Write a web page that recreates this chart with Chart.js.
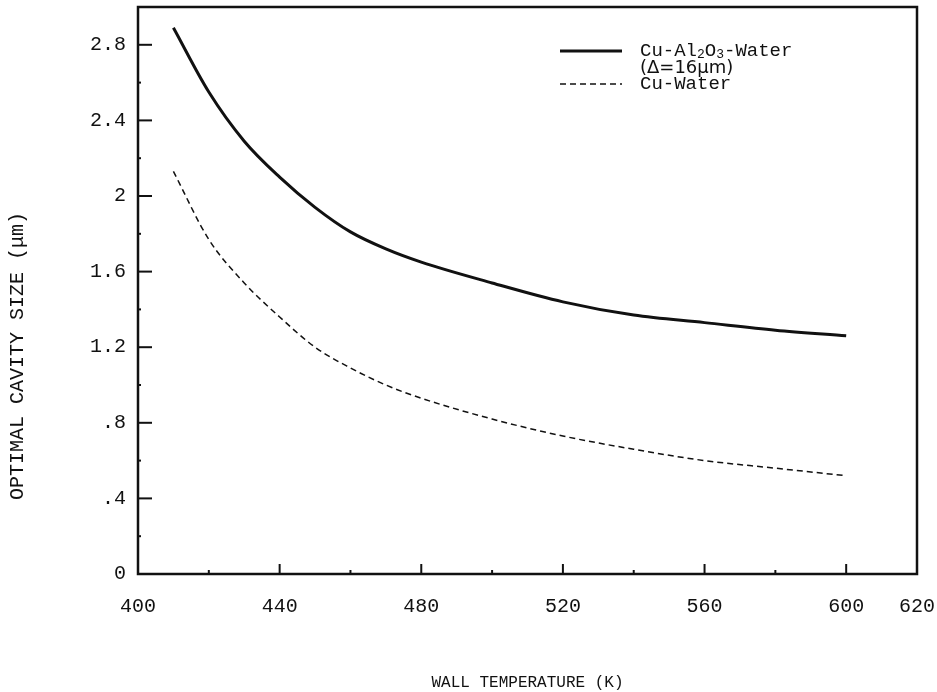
<!DOCTYPE html>
<html>
<head>
<meta charset="utf-8">
<script src="https://cdn.jsdelivr.net/npm/chart.js@4.4.0/dist/chart.umd.min.js"></script>
<style>
  html, body { margin: 0; padding: 0; background: #fff; }
  #wrap { width: 937px; height: 692px; position: relative; }
</style>
</head>
<body>
<div id="wrap"><canvas id="chart"></canvas></div>
<script>
// values
const wallTemp = [410, 420, 430, 440, 450, 460, 470, 480, 500, 520, 540, 560, 580, 600];
const cuAl2o3Water = [2.89, 2.55, 2.29, 2.10, 1.94, 1.81, 1.72, 1.65, 1.54, 1.44, 1.37, 1.33, 1.29, 1.26];
const cuWater = [2.13, 1.77, 1.54, 1.36, 1.20, 1.09, 1.00, 0.93, 0.82, 0.73, 0.66, 0.60, 0.56, 0.52];

const xTickLabels = [400, 440, 480, 520, 560, 600, 620];
const yTickLabels = { 0: "0", 0.4: ".4", 0.8: ".8", 1.2: "1.2", 1.6: "1.6", 2: "2", 2.4: "2.4", 2.8: "2.8" };

const MONO = "'Liberation Mono', 'Courier New', monospace";
const INK = "#111";

const toPoints = (ys) => wallTemp.map((t, i) => ({ x: t, y: ys[i] }));

function yLabel(v) {
  const key = Math.round(v * 10) / 10;
  return yTickLabels[key] !== undefined ? yTickLabels[key] : "";
}

// frame, inward tick marks, axis titles and the legend
const decorPlugin = {
  id: "decor",
  afterDatasetsDraw(chart) {
    const { ctx, chartArea: a, scales } = chart;
    ctx.save();
    ctx.strokeStyle = INK;
    ctx.lineCap = "butt";

    // ticks pointing into the plot
    ctx.lineWidth = 2;
    scales.x.ticks.forEach((t) => {
      if (t.value <= 400 || t.value >= 620) return;
      const px = scales.x.getPixelForValue(t.value);
      const len = t.value % 40 === 0 ? 10 : 4;
      ctx.beginPath();
      ctx.moveTo(px, a.bottom);
      ctx.lineTo(px, a.bottom - len);
      ctx.stroke();
    });
    scales.y.ticks.forEach((t) => {
      if (t.value <= 0 || t.value >= 3) return;
      const py = scales.y.getPixelForValue(t.value);
      const len = yLabel(t.value) ? 14 : 3;
      ctx.beginPath();
      ctx.moveTo(a.left, py);
      ctx.lineTo(a.left + len, py);
      ctx.stroke();
    });

    // frame
    ctx.lineWidth = 2.5;
    ctx.strokeRect(a.left, a.top, a.right - a.left, a.bottom - a.top);
    ctx.restore();
  },
  afterDraw(chart) {
    const { ctx, chartArea: a } = chart;
    ctx.save();
    ctx.fillStyle = INK;

    // axis titles
    ctx.font = "16px " + MONO;
    ctx.textAlign = "center";
    ctx.textBaseline = "middle";
    ctx.fillText("WALL TEMPERATURE (K)", (a.left + a.right) / 2, 683);

    ctx.save();
    ctx.translate(18, 356);
    ctx.rotate(-Math.PI / 2);
    ctx.font = "20px " + MONO;
    ctx.fillText("OPTIMAL CAVITY SIZE (\u03bcm)", 0, 0);
    ctx.restore();

    // legend
    const ds = chart.data.datasets;
    const lx0 = 560, lx1 = 622, tx = 640;
    const rows = [51, 84];
    ds.forEach((d, i) => {
      ctx.save();
      ctx.strokeStyle = d.borderColor;
      ctx.lineWidth = d.borderWidth;
      ctx.setLineDash(d.borderDash || []);
      ctx.beginPath();
      ctx.moveTo(lx0, rows[i]);
      ctx.lineTo(lx1, rows[i]);
      ctx.stroke();
      ctx.restore();
    });

    // "Cu-Al2O3-Water" with subscripts
    ctx.textAlign = "left";
    ctx.textBaseline = "middle";
    let x = tx;
    const runs = [["Cu-Al", false], ["2", true], ["O", false], ["3", true], ["-Water", false]];
    runs.forEach(([s, sub]) => {
      ctx.font = (sub ? "13px " : "19px ") + MONO;
      ctx.fillText(s, x, rows[0] + (sub ? 4 : 0));
      x += ctx.measureText(s).width;
    });
    ctx.font = "18px 'DejaVu Sans', sans-serif";
    ctx.fillText("(\u0394=16\u03bcm)", tx, 68);
    ctx.font = "19px " + MONO;
    ctx.fillText("Cu-Water", tx, rows[1]);
    ctx.restore();
  }
};

new Chart(document.getElementById("chart"), {
  type: "line",
  data: {
    datasets: [
      {
        label: "Cu-Al2O3-Water (\u0394=16\u03bcm)",
        data: toPoints(cuAl2o3Water),
        borderColor: INK,
        borderWidth: 3,
        pointRadius: 0,
        cubicInterpolationMode: "monotone",
        fill: false
      },
      {
        label: "Cu-Water",
        data: toPoints(cuWater),
        borderColor: INK,
        borderWidth: 1.5,
        borderDash: [6, 4],
        pointRadius: 0,
        cubicInterpolationMode: "monotone",
        fill: false
      }
    ]
  },
  options: {
    responsive: true,
    maintainAspectRatio: false,
    animation: false,
    layout: { padding: { left: 0, right: 20, top: 7, bottom: 0 } },
    plugins: { legend: { display: false }, tooltip: { enabled: false } },
    scales: {
      x: {
        type: "linear",
        min: 400,
        max: 620,
        afterBuildTicks: (s) => {
          s.ticks = [];
          for (let v = 400; v <= 620; v += 20) s.ticks.push({ value: v });
        },
        afterFit: (s) => {
          s.height = 118;
          s.paddingLeft = 0;
          s.paddingRight = 0;
        },
        grid: { display: false, drawTicks: false },
        border: { display: false },
        ticks: {
          autoSkip: false,
          maxRotation: 0,
          padding: 21,
          color: INK,
          font: { family: MONO, size: 20 },
          callback: (v) => (xTickLabels.includes(v) ? String(v) : "")
        }
      },
      y: {
        type: "linear",
        min: 0,
        max: 3,
        afterBuildTicks: (s) => {
          s.ticks = [];
          for (let i = 0; i <= 15; i++) s.ticks.push({ value: Math.round(i * 2) / 10 });
        },
        afterFit: (s) => {
          s.width = 138;
          s.paddingTop = 0;
          s.paddingBottom = 0;
        },
        grid: { display: false, drawTicks: false },
        border: { display: false },
        ticks: {
          autoSkip: false,
          padding: 12,
          color: INK,
          font: { family: MONO, size: 20 },
          callback: (v) => yLabel(v)
        }
      }
    }
  },
  plugins: [decorPlugin]
});
</script>
</body>
</html>
